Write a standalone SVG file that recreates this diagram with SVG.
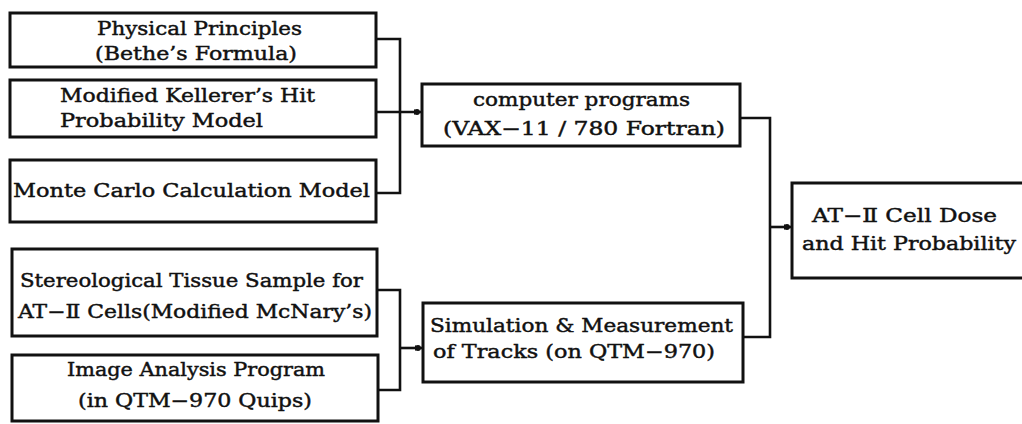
<svg xmlns="http://www.w3.org/2000/svg" width="1022" height="424" viewBox="0 0 1022 424">
  <style>
    .box { fill: #ffffff; stroke: #111111; stroke-width: 3; }
    .lbl { font-family: "DejaVu Serif", "Liberation Serif", serif; font-size: 19px; fill: #111111; stroke: #111111; stroke-width: 0.45; }
    .wire { fill: none; stroke: #111111; stroke-width: 2.6; stroke-linejoin: miter; }
  </style>
  <defs>
    <marker id="dot" viewBox="0 0 8 8" refX="7" refY="4" markerWidth="8" markerHeight="8" markerUnits="userSpaceOnUse" orient="auto">
      <path d="M0,1.2 L7.5,4 L0,6.8 Z" fill="#111111"/>
      <circle cx="3" cy="4" r="2.9" fill="#111111"/>
    </marker>
  </defs>
  <rect width="1022" height="424" fill="#ffffff"/>

  <!-- connectors: bracket joins and the arrows into the next stage -->
  <g id="connectors">
    <path class="wire" d="M376,39 H400 V193 H376"/>
    <path class="wire" d="M376,112 H421" marker-end="url(#dot)"/>
    <path class="wire" d="M377,290 H400 V390 H378"/>
    <path class="wire" d="M400,348 H422" marker-end="url(#dot)"/>
    <path class="wire" d="M740,118 H770 V337 H743"/>
    <path class="wire" d="M770,227 H791" marker-end="url(#dot)"/>
  </g>

  <g id="physical-principles">
    <rect class="box" x="10" y="13" width="366" height="54"/>
    <text class="lbl" x="97" y="35" textLength="205" lengthAdjust="spacingAndGlyphs">Physical Principles</text>
    <text class="lbl" x="95" y="60" textLength="202" lengthAdjust="spacingAndGlyphs">(Bethe’s Formula)</text>
  </g>

  <g id="kellerer-model">
    <rect class="box" x="10" y="80" width="366" height="57"/>
    <text class="lbl" x="60" y="102" textLength="255" lengthAdjust="spacingAndGlyphs">Modified Kellerer’s Hit</text>
    <text class="lbl" x="60" y="127" textLength="203" lengthAdjust="spacingAndGlyphs">Probability Model</text>
  </g>

  <g id="monte-carlo">
    <rect class="box" x="10" y="160" width="366" height="62"/>
    <text class="lbl" x="13" y="197" textLength="357" lengthAdjust="spacingAndGlyphs">Monte Carlo Calculation Model</text>
  </g>

  <g id="stereological-sample">
    <rect class="box" x="12" y="249" width="365" height="87"/>
    <text class="lbl" x="20" y="287" textLength="343" lengthAdjust="spacingAndGlyphs">Stereological Tissue Sample for</text>
    <text class="lbl" x="18" y="318" textLength="354" lengthAdjust="spacingAndGlyphs">AT−Ⅱ Cells(Modified McNary’s)</text>
  </g>

  <g id="image-analysis">
    <rect class="box" x="12" y="355" width="366" height="66"/>
    <text class="lbl" x="67" y="376" textLength="258" lengthAdjust="spacingAndGlyphs">Image Analysis Program</text>
    <text class="lbl" x="78" y="407" textLength="234" lengthAdjust="spacingAndGlyphs">(in QTM−970 Quips)</text>
  </g>

  <g id="computer-programs">
    <rect class="box" x="422" y="84" width="318" height="62"/>
    <text class="lbl" x="473" y="106" textLength="217" lengthAdjust="spacingAndGlyphs">computer programs</text>
    <text class="lbl" x="443" y="135" textLength="282" lengthAdjust="spacingAndGlyphs">(VAX−11 / 780 Fortran)</text>
  </g>

  <g id="simulation-tracks">
    <rect class="box" x="423" y="303" width="320" height="79"/>
    <text class="lbl" x="430" y="332" textLength="303" lengthAdjust="spacingAndGlyphs">Simulation &amp; Measurement</text>
    <text class="lbl" x="433" y="358" textLength="282" lengthAdjust="spacingAndGlyphs">of Tracks (on QTM−970)</text>
  </g>

  <g id="cell-dose">
    <rect class="box" x="792" y="183" width="240" height="95"/>
    <text class="lbl" x="812" y="222" textLength="185" lengthAdjust="spacingAndGlyphs">AT−Ⅱ Cell Dose</text>
    <text class="lbl" x="802" y="250" textLength="214" lengthAdjust="spacingAndGlyphs">and Hit Probability</text>
  </g>
</svg>
